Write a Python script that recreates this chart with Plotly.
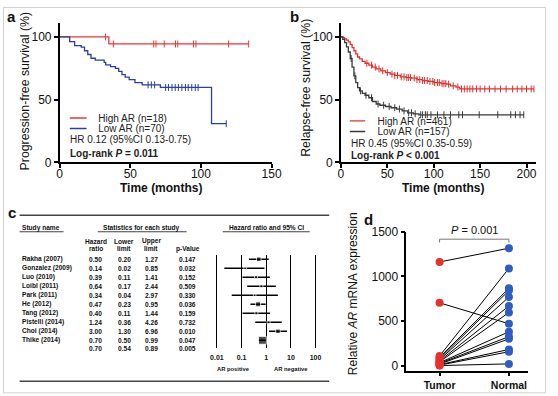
import plotly.graph_objects as go

W, H = 558, 396
def px(x): return x / W
def py(y): return 1 - y / H

FONT = "Liberation Sans, Arial, sans-serif"
RED = "#e8363a"
BLUE = "#2d3f9c"
DARK = "#3a3a3a"
DRED = "#e8302e"
DBLUE = "#2f5ec2"

# ---------------- Panel a data (progression-free survival) ----------------
a_high_t = [0, 34.8, 133.8]
a_high_s = [100, 94.4, 94.4]
a_high_cens = [32.5, 38, 66.6, 68.2, 74, 82, 83.6, 94.7, 96.5, 119.6, 133.8]
a_low_t = [0, 7.1, 10.6, 15.3, 17.6, 19.9, 22.2, 25.2, 31.5, 32.6, 36, 39.5,
           41.8, 44.1, 46.4, 49.2, 53.3, 58.4, 71.3, 107.5, 117.9]
a_low_s = [100, 96.2, 93, 91.8, 89, 86, 83, 81.5, 79.7, 77.7, 76.4, 75,
           72.5, 70, 68, 66, 63.6, 61.8, 59.7, 30.8, 30.8]
a_low_cens = [62.6, 64.9, 67.2, 75, 77, 79.5, 81.8, 84, 86.5, 89, 91, 93.5, 96, 98, 117.9]

# ---------------- Panel b data (relapse-free survival) ----------------
b_high_t = [0, 2, 4, 6, 8, 10, 12, 14, 16, 18, 20, 23, 26, 30, 34, 38, 43, 48, 53,
            58, 64, 70, 76, 82, 88, 94, 100, 108, 114, 118, 124, 128, 208]
b_high_s = [100, 99.5, 98.5, 97.5, 96, 94, 91.5, 89, 86.5, 84, 82.5, 80.5, 79, 77.5,
            76, 74.5, 73, 71.5, 70.3, 69.3, 68.2, 67.6, 67.2, 66, 65.2, 64.5, 63.6,
            62.8, 62.3, 61, 60, 58.5, 58.5]
b_high_cens = [28, 33, 37, 41, 45, 50, 55, 58, 61, 65, 68, 71, 73, 75, 79, 82, 85, 88,
               90, 93, 96, 99, 101, 104, 106, 109, 111, 113, 116, 121, 126, 130, 133,
               136, 139, 142, 146, 150, 155, 160, 166, 172, 178, 185, 190, 195, 200, 205, 208]
b_low_t = [0, 2, 4, 6, 8, 10, 12, 14, 16, 18, 20, 23, 26, 30, 34, 38, 42, 48, 54, 60,
           66, 72, 78, 84, 197]
b_low_s = [100, 98, 95.5, 92, 88, 82.8, 76, 69, 63.5, 59.5, 57, 55, 53.5, 51.5, 48.5,
           46.5, 45.5, 44.5, 43.5, 42.5, 41, 39.5, 38.7, 37.9, 37.9]
b_low_cens = [11, 15, 21, 27, 33, 40, 46, 52, 58, 63, 68, 73, 76, 80, 86, 88, 91, 93,
              97, 104, 111, 118, 127, 131, 149, 169, 183, 188, 193, 197]

# ---------------- Panel c data (meta-analysis) ----------------
studies = ["Rakha (2007)", "Gonzalez (2009)", "Luo (2010)", "Loibl (2011)", "Park (2011)",
           "He (2012)", "Tang (2012)", "Pistelli (2014)", "Choi (2014)", "Thike (2014)"]
hr = [0.50, 0.14, 0.39, 0.64, 0.34, 0.47, 0.40, 1.24, 3.00, 0.70]
lower = [0.20, 0.02, 0.11, 0.17, 0.04, 0.23, 0.11, 0.36, 1.30, 0.50]
upper = [1.27, 0.85, 1.41, 2.44, 2.97, 0.95, 1.44, 4.26, 6.96, 0.99]
pvals = ["0.147", "0.032", "0.152", "0.509", "0.330", "0.036", "0.159", "0.732", "0.010", "0.047"]
box_sizes = [4.5, 2.5, 3, 3, 2.5, 5, 3, 3, 4.5, 8]
sum_hr, sum_lower, sum_upper, sum_p = 0.70, 0.54, 0.89, "0.005"
forest_ticks = [0.01, 0.1, 1, 10, 100]
forest_ticklabels = ["0.01", "0.1", "1", "10", "100"]

# ---------------- Panel d data (paired expression) ----------------
tumor = [1162, 705, 110, 95, 80, 68, 55, 45, 35, 28, 20, 14, 8, 3]
normal = [1316, 471, 1090, 867, 842, 770, 669, 597, 381, 327, 302, 183, 158, 22]
d_categories = ["Tumor", "Normal"]


def surv_at(ts, ss, t):
    v = ss[0]
    for ti, si in zip(ts, ss):
        if ti <= t:
            v = si
    return v


fig = go.Figure()


def km(ts, ss, cens, color, name, xa, ya, leg, legsize):
    fig.add_trace(go.Scatter(x=ts, y=ss, mode="lines", line=dict(color=color, width=1.3, shape="hv"),
                             showlegend=False, xaxis=xa, yaxis=ya, hoverinfo="skip"))
    fig.add_trace(go.Scatter(x=cens, y=[surv_at(ts, ss, c) for c in cens], mode="markers",
                             marker=dict(symbol="line-ns-open", size=5, color=color,
                                         line=dict(width=1, color=color)),
                             showlegend=False, xaxis=xa, yaxis=ya, cliponaxis=False, hoverinfo="skip"))
    fig.add_trace(go.Scatter(x=[None], y=[None], mode="markers", name=name,
                             marker=dict(symbol="line-ew-open", size=legsize, color=color,
                                         line=dict(width=1.4, color=color)),
                             xaxis=xa, yaxis=ya, legend=leg))


km(a_high_t, a_high_s, a_high_cens, RED, "High AR (n=18)", "x", "y", "legend", 12)
km(a_low_t, a_low_s, a_low_cens, BLUE, "Low AR (n=70)", "x", "y", "legend2", 12)
km(b_high_t, b_high_s, b_high_cens, DRED, "High AR (n=461)", "x2", "y2", "legend3", 11)
km(b_low_t, b_low_s, b_low_cens, DARK, "Low AR (n=157)", "x2", "y2", "legend4", 11)

# forest plot
rows = list(range(len(studies)))
fig.add_trace(go.Scatter(
    x=hr, y=rows, mode="markers", xaxis="x3", yaxis="y3", showlegend=False, cliponaxis=False,
    marker=dict(symbol="square", size=box_sizes, color="black"),
    error_x=dict(type="data", symmetric=False,
                 array=[u - h for u, h in zip(upper, hr)],
                 arrayminus=[h - l for h, l in zip(hr, lower)],
                 color="black", thickness=1.4, width=0)))
fig.add_trace(go.Scatter(x=[sum_hr], y=[len(studies)], mode="markers", xaxis="x3", yaxis="y3",
                         showlegend=False, cliponaxis=False,
                         marker=dict(symbol="diamond", size=6, color="black")))

# panel d
lx, ly = [], []
for t, n in zip(tumor, normal):
    lx += [0, 1, None]
    ly += [t, n, None]
fig.add_trace(go.Scatter(x=lx, y=ly, mode="lines", line=dict(color="black", width=1),
                         xaxis="x4", yaxis="y4", showlegend=False, hoverinfo="skip"))
fig.add_trace(go.Scatter(x=[0] * len(tumor), y=tumor, mode="markers", xaxis="x4", yaxis="y4",
                         showlegend=False, cliponaxis=False, marker=dict(color=DRED, size=8)))
fig.add_trace(go.Scatter(x=[1] * len(normal), y=normal, mode="markers", xaxis="x4", yaxis="y4",
                         showlegend=False, cliponaxis=False, marker=dict(color=DBLUE, size=8)))

axis_common = dict(showline=True, linecolor="black", linewidth=1.5, ticks="outside", ticklen=4,
                   tickwidth=1.5, tickcolor="black", showgrid=False, zeroline=False,
                   tickfont=dict(family=FONT, size=12, color="#111"))
xaxis_common = {**axis_common, "ticklabelstandoff": -4}

leg_common = dict(xanchor="left", yanchor="middle", bgcolor="rgba(0,0,0,0)", itemwidth=30,
                  font=dict(family=FONT, size=10, color="#222"), borderwidth=0, tracegroupgap=0)

fig.update_layout(
    width=W, height=H, margin=dict(l=0, r=0, t=0, b=0),
    paper_bgcolor="white", plot_bgcolor="white",
    font=dict(family=FONT, color="#111"),
    xaxis=dict(domain=[px(58), px(275)], range=[0, 150], tickvals=[0, 50, 100, 150],
               anchor="y", **xaxis_common),
    yaxis=dict(domain=[py(161), py(17)], range=[0, 110.8], tickvals=[0, 50, 100],
               anchor="x", **axis_common),
    xaxis2=dict(domain=[px(346), px(546)], range=[0, 210.5], tickvals=[0, 50, 100, 150, 200],
                anchor="y2", **xaxis_common),
    yaxis2=dict(domain=[py(161), py(17)], range=[0, 110.8], tickvals=[0, 50, 100],
                anchor="x2", **axis_common),
    xaxis3=dict(domain=[px(205), px(335)], type="log", range=[-2.554, 2.594],
                tickvals=forest_ticks, ticktext=["<b>%s</b>" % t for t in forest_ticklabels],
                showgrid=True, gridcolor="black", gridwidth=1.4, showline=False, zeroline=False,
                ticks="", ticklabelstandoff=4, anchor="y3",
                tickfont=dict(family=FONT, size=7, color="#111")),
    yaxis3=dict(domain=[py(354), py(257)], range=[9.91, -0.482], visible=False, anchor="x3"),
    xaxis4=dict(domain=[px(413), px(538)], range=[-0.479, 1.282], tickvals=[0, 1],
                ticktext=["<b>%s</b>" % c for c in d_categories], anchor="y4",
                **{**axis_common, "tickfont": dict(family=FONT, size=10.5, color="#111")}),
    yaxis4=dict(domain=[py(377), py(233)], range=[-54, 1500], tickvals=[0, 500, 1000, 1500],
                anchor="x4", **axis_common),
    legend=dict(x=px(56.5), y=py(115), **leg_common),
    legend2=dict(x=px(56.5), y=py(126), **leg_common),
    legend3=dict(x=px(342.5), y=py(118), **leg_common),
    legend4=dict(x=px(342.5), y=py(129), **leg_common),
)

ann = []
def text(x, y, s, size, anchor="center", xref="paper", yref="paper", angle=0, color="#111"):
    ann.append(dict(x=x, y=y, xref=xref, yref=yref, text=s, showarrow=False, xanchor=anchor,
                    yanchor="middle", textangle=angle,
                    font=dict(family=FONT, size=size, color=color)))

# panel letters
text(px(2.5), py(9.5), "<b>a</b>", 15, "left")
text(px(292), py(10), "<b>b</b>", 15, "left")
text(px(3), py(213), "<b>c</b>", 15, "left")
text(px(368), py(220), "<b>d</b>", 15, "left")

# axis titles
text(px(22), py(87), "Progression-free survival (%)", 12.3, angle=-90)
text(px(162), py(188), "<b>Time (months)</b>", 12, )
text(px(310), py(84), "Relapse-free survival (%)", 12.3, angle=-90)
text(px(451), py(188), "<b>Time (months)</b>", 12)
text(px(358), py(297), "Relative <i>AR</i> mRNA expression", 12, angle=-90)

# KM annotations
text(px(67), py(137), "HR 0.12 (95%CI 0.13-0.75)", 10, "left", color="#222")
text(px(67), py(152), "<b>Log-rank <i>P</i> = 0.011</b>", 10, "left", color="#222")
text(px(354), py(142), "HR 0.45 (95%CI 0.35-0.59)", 10, "left", color="#222")
text(px(354), py(154), "<b>Log-rank <i>P</i> &lt; 0.001</b>", 10, "left", color="#222")

# table text
TS = 6.6
text(px(17), py(229), "<b>Study name</b>", TS, "left")
text(px(142), py(229), "<b>Statistics for each study</b>", TS)
text(px(270), py(229), "<b>Hazard ratio and 95% CI</b>", TS)
col_x = [px(95), px(124), px(152), px(189)]
for cx, h1 in zip(col_x[:3], ["Hazard", "Lower", "Upper"]):
    text(cx, py(243), "<b>%s</b>" % h1, TS)
for cx, h2 in zip(col_x, ["ratio", "limit", "limit", "p-Value"]):
    text(cx, py(250.5), "<b>%s</b>" % h2, TS)
for i, name in enumerate(studies):
    text(px(17), i, "<b>%s</b>" % name, TS, "left", yref="y3")
    for cx, v in zip(col_x, ["%.2f" % hr[i], "%.2f" % lower[i], "%.2f" % upper[i], pvals[i]]):
        text(cx, i, "<b>%s</b>" % v, TS, yref="y3")
for cx, v in zip(col_x, ["%.2f" % sum_hr, "%.2f" % sum_lower, "%.2f" % sum_upper, sum_p]):
    text(cx, len(studies) - 0.1, "<b>%s</b>" % v, TS, yref="y3")
text(px(236), py(375), "<b>AR positive</b>", 5.8)
text(px(295), py(375), "<b>AR negative</b>", 5.8)

# panel d p-value
text(px(483), py(231), "<i>P</i> = 0.001", 11)

fig.update_layout(annotations=ann)

shapes = []
def hline(x0, x1, y, w=1.5, color="#444"):
    shapes.append(dict(type="line", xref="paper", yref="paper", x0=px(x0), x1=px(x1),
                       y0=py(y), y1=py(y), line=dict(color=color, width=w)))
hline(17, 334, 216)
hline(17, 334, 388)
hline(17, 62, 233, 0.8, "#111")
hline(97, 188, 233, 0.8, "#111")
hline(225, 314, 233, 0.8, "#111")
shapes.append(dict(type="path", xref="x4", yref="y4", path="M0,1380 L0,1417 L1,1417 L1,1380",
                   line=dict(color="#777", width=1)))
# faint frame around the figure
shapes.append(dict(type="rect", xref="paper", yref="paper", x0=px(0.5), x1=px(555.5),
                   y0=py(400), y1=py(0.5), line=dict(color="#d0d0d0", width=1)))
fig.update_layout(shapes=shapes)

fig.write_html("out.html", config={"displayModeBar": False},
               post_script="document.body.style.margin='0';")
